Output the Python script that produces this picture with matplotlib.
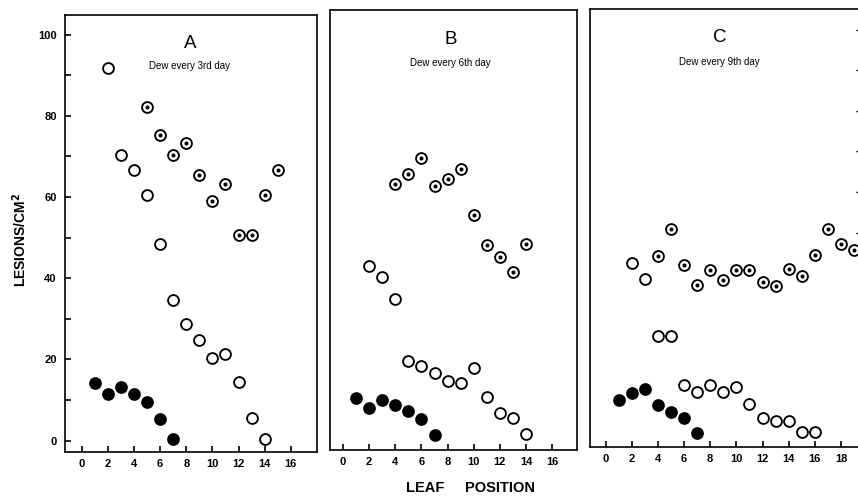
import matplotlib
matplotlib.use("Agg")
import matplotlib.pyplot as plt
import numpy as np

plt.rcParams['font.family'] = ['Liberation Sans', 'DejaVu Sans']

# Panel A - dew every 3rd day
a_dot_x = [5, 6, 7, 8, 9, 10, 11, 12, 13, 14, 15]
a_dot_y = [82.1, 75.4, 70.4, 73.3, 65.5, 59.1, 63.2, 50.6, 50.6, 60.6, 66.6]
a_open_x = [2, 3, 4, 5, 6, 7, 8, 9, 10, 11, 12, 13, 14]
a_open_y = [91.8, 70.3, 66.7, 60.4, 48.5, 34.6, 28.7, 24.9, 20.4, 21.4, 14.5, 5.5, 0.5]
a_fill_x = [1, 2, 3, 4, 5, 6, 7]
a_fill_y = [14.2, 11.6, 13.1, 11.6, 9.6, 5.4, 0.4]

# Panel B - dew every 6th day
b_dot_x = [4, 5, 6, 7, 8, 9, 10, 11, 12, 13, 14]
b_dot_y = [62.6, 65.1, 69.2, 62.2, 64.0, 66.4, 55.2, 47.8, 44.8, 41.1, 48.0]
b_open_x = [2, 3, 4, 5, 6, 7, 8, 9, 10, 11, 12, 13, 14]
b_open_y = [42.5, 39.8, 34.3, 19.1, 18.0, 16.1, 14.1, 13.7, 17.5, 10.2, 6.3, 5.1, 1.2]
b_fill_x = [1, 2, 3, 4, 5, 6, 7]
b_fill_y = [9.9, 7.6, 9.6, 8.4, 6.9, 4.9, 1.0]

# Panel C - dew every 9th day
c_dot_x = [4, 5, 6, 7, 8, 9, 10, 11, 12, 13, 14, 15, 16, 17, 18, 19]
c_dot_y = [44.3, 50.8, 42.1, 37.0, 40.7, 38.3, 40.7, 40.7, 37.9, 36.9, 41.0, 39.3, 44.6, 51.0, 47.3, 45.6]
c_open_x = [2, 3, 4, 5, 6, 7, 8, 9, 10, 11, 12, 13, 14, 15, 16]
c_open_y = [42.4, 38.7, 24.6, 24.6, 12.4, 10.8, 12.4, 10.8, 12.0, 7.7, 4.4, 3.5, 3.5, 0.9, 0.9]
c_fill_x = [1, 2, 3, 4, 5, 6, 7]
c_fill_y = [8.7, 10.5, 11.6, 7.5, 5.7, 4.4, 0.7]

panel_letters = ['A', 'B', 'C']
panel_notes = ['Dew every 3rd day', 'Dew every 6th day', 'Dew every 9th day']
x_ticks = [[0, 2, 4, 6, 8, 10, 12, 14, 16],
           [0, 2, 4, 6, 8, 10, 12, 14, 16],
           [0, 2, 4, 6, 8, 10, 12, 14, 16, 18]]

W, H = 858, 498
fig = plt.figure(figsize=(W / 100, H / 100), dpi=100)

# pixel boxes: left, right, top, bottom
boxes = [(65, 317, 15, 452), (330, 577, 10, 450), (590, 862, 9, 447)]
xlefts = [-1.28, -1.0, -1.2]
px_x = 13.07
px_y = 4.06
ybot = -2.8

data = [(a_dot_x, a_dot_y, a_open_x, a_open_y, a_fill_x, a_fill_y),
        (b_dot_x, b_dot_y, b_open_x, b_open_y, b_fill_x, b_fill_y),
        (c_dot_x, c_dot_y, c_open_x, c_open_y, c_fill_x, c_fill_y)]
letter_pos = [(0.496, 0.934, 0.883), (0.489, 0.932, 0.880), (0.476, 0.936, 0.879)]

for i, (l, r, t, b) in enumerate(boxes):
    ax = fig.add_axes([l / W, 1 - b / H, (r - l) / W, (b - t) / H])
    ax.set_xlim(xlefts[i], xlefts[i] + (r - l) / px_x)
    ax.set_ylim(ybot, ybot + (b - t) / px_y)
    for s in ax.spines.values():
        s.set_linewidth(1.2)
    dx, dy, ox, oy, fx, fy = data[i]
    ms = 7.8
    ax.plot(ox, oy, 'o', ms=ms, mfc='white', mec='black', mew=1.35, ls='none')
    ax.plot(dx, dy, 'o', ms=ms, mfc='white', mec='black', mew=1.35, ls='none')
    ax.plot(dx, dy, 'o', ms=1.9, mfc='black', mec='black', ls='none')
    ax.plot(fx, fy, 'o', ms=ms, mfc='black', mec='black', mew=1.35, ls='none')

    ax.set_xticks(x_ticks[i])
    ax.tick_params(axis='x', direction='in', length=4, width=1.2, pad=5,
                   labelsize=8)
    for lab in ax.get_xticklabels():
        lab.set_fontweight('bold')

    if i == 0:
        ax.set_yticks([0, 20, 40, 60, 80, 100])
        ax.set_yticks([10, 30, 50, 70, 90], minor=True)
        ax.tick_params(axis='y', which='both', direction='in', length=4,
                       width=1.2, pad=6, labelsize=8)
        for lab in ax.get_yticklabels():
            lab.set_fontweight('bold')
    elif i == 2:
        ax.set_yticks([50, 60, 70, 80, 90, 100])
        ax.tick_params(axis='y', left=False, labelleft=False, right=True,
                       direction='in', length=4.5, width=1.0)
    else:
        ax.set_yticks([])

    lx, ly, ny = letter_pos[i]
    ax.text(lx, ly, panel_letters[i], transform=ax.transAxes, ha='center',
            va='center', fontsize=13.5)
    ax.text(lx, ny, panel_notes[i], transform=ax.transAxes, ha='center',
            va='center', fontsize=7)

fig.text(20 / W, 1 - 240 / H, 'LESIONS/CM$^{\\mathbf{2}}$', rotation=90,
         ha='center', va='center', fontsize=10, fontweight='bold')
fig.text(470 / W, 1 - 488 / H, 'LEAF     POSITION', ha='center', va='center',
         fontsize=10.5, fontweight='bold')

fig.savefig('out.png', dpi=100)
